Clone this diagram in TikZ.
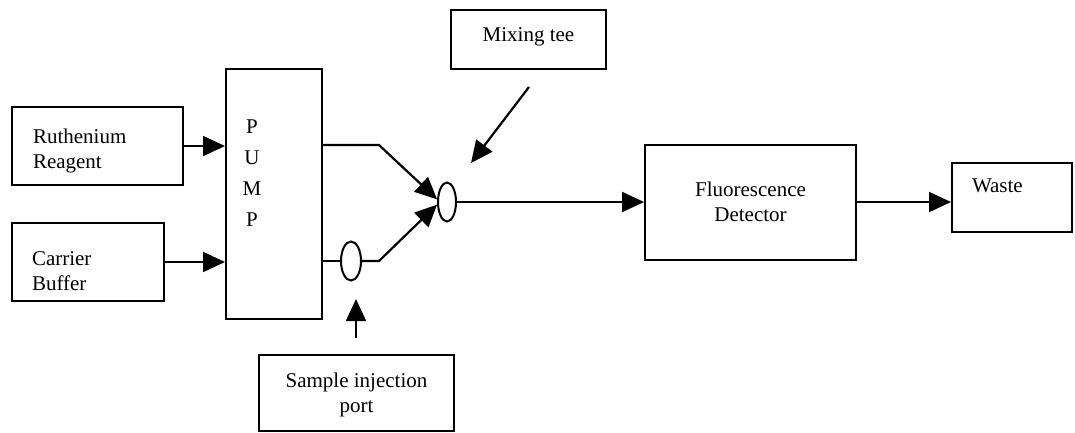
\documentclass[tikz,border=0pt]{standalone}
\usepackage{fontspec}
\setmainfont{Liberation Serif}
\usetikzlibrary{shapes.geometric, arrows.meta, positioning}

\begin{document}
\begin{tikzpicture}[x=1pt, y=-1pt,
  unitbox/.style={draw, line width=2pt, inner sep=0pt, font=\fontsize{21}{25.5}\selectfont},
  valve/.style={draw, ellipse, line width=2pt, inner sep=0pt, minimum height=39pt},
  tube/.style={line width=2.2pt},
  flow/.style={line width=2.2pt, -{Triangle[length=22pt,width=20pt]}}]
\useasboundingbox (0,0) rectangle (1075,432);
% boxes
\node[unitbox, minimum height=78pt, text width=129pt, inner xsep=21pt, align=left, text depth=20pt] (ruth) at (97.5,146) {Ruthenium\\Reagent};
\node[unitbox, minimum height=78pt, text width=112pt, inner xsep=20pt, align=left, text depth=7pt] (carr) at (88,262) {Carrier\\Buffer};
\node[unitbox, minimum width=96pt, minimum height=250pt] (pump) at (274,194) {};
\node[font=\fontsize{21}{31}\selectfont, inner sep=0pt, align=center] (pumplabel) at (252,173.5) {P\\U\\M\\P};
\node[unitbox, minimum width=155pt, minimum height=59pt, text depth=9pt] (mix) at (528.5,39.5) {Mixing tee};
\node[unitbox, minimum width=195pt, minimum height=76pt, align=center, text depth=1pt] (samp) at (356.5,393) {Sample injection\\port};
\node[unitbox, minimum width=211pt, minimum height=115pt, align=center] (fluo) at (750.5,202) {Fluorescence\\Detector};
\node[unitbox, minimum height=69pt, text width=80pt, inner xsep=20pt, align=left, text depth=23pt] (waste) at (1012,197.5) {Waste};
% mixing tee and injection port
\node[valve, minimum width=18pt] (tee) at (447,202) {};
\node[valve, minimum width=20pt] (port) at (351,261) {};
\coordinate (upbend) at (379,145);
\coordinate (lowbend) at (379,261);
\coordinate (mixfrom) at (529,87);
\coordinate (mixto) at (471,163);
\coordinate (injfrom) at (356,338);
\coordinate (injto) at (356,299);
% flow lines
\draw[flow] (ruth.east) -- (ruth.east -| pump.west);
\draw[flow] (carr.east) -- (carr.east -| pump.west);
\draw[flow] (pump.east |- upbend) -- (upbend) -- (tee.165);
\draw[tube] (pump.east |- port) -- (port.west);
\draw[flow] (port.east) -- (lowbend) -- (tee.195);
\draw[flow] (tee.east) -- (tee.east -| fluo.west);
\draw[flow] (fluo.east) -- (fluo.east -| waste.west);
\draw[flow] (mixfrom) -- (mixto);
\draw[flow] (injfrom) -- (injto);
\end{tikzpicture}
\end{document}
